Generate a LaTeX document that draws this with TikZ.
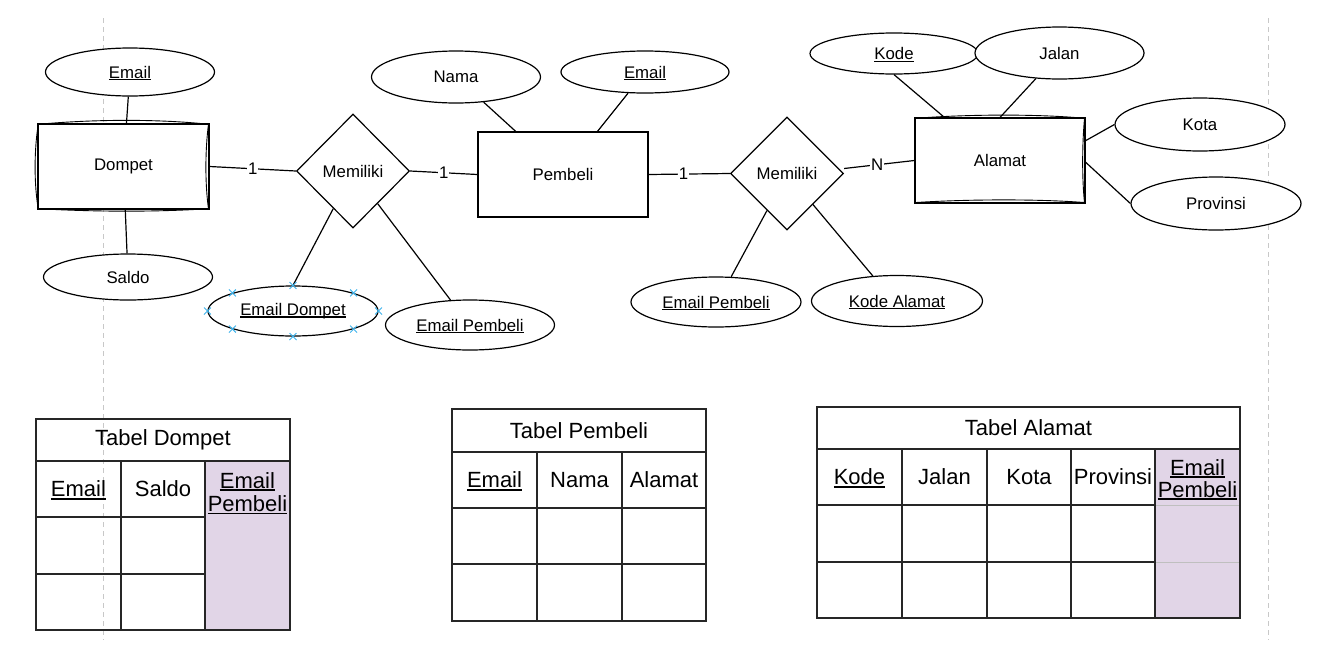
\documentclass[tikz,border=0pt]{standalone}
\usepackage{fontspec}
\setmainfont{Liberation Sans}
\usetikzlibrary{shapes.geometric,shapes.misc,calc}
\definecolor{fkpurple}{HTML}{E1D5E7}
\definecolor{selblue}{HTML}{3DB3EC}
\definecolor{guide}{HTML}{C8C8C8}
\newcommand\erfont{\fontsize{16.8}{20}\selectfont}
\newcommand\tbfont{\fontsize{22}{23}\selectfont}
\newcommand\ulx[1]{\setbox0\hbox{#1}\rlap{\smash{\rule[-0.13em]{\wd0}{0.065em}}}\box0}
\tikzset{
  x={(1pt,0)}, y={(0,-1pt)},
  erline/.style={line width=1.2pt, black},
  attr/.style={ellipse, draw, erline, inner sep=0pt, font=\erfont, fill=white},
  ent/.style={rectangle, draw, erline, inner sep=0pt, font=\erfont, fill=white},
  rel/.style={diamond, draw, erline, inner sep=0pt, font=\erfont, fill=white, minimum width=113pt, minimum height=114pt},
  card/.style={fill=white, inner sep=1pt, font=\erfont},
  sk/.style={line width=0.9pt, black},
  tbl/.style={line width=1.8pt, black!85},
  tbtext/.style={font=\tbfont, inner sep=0pt},
  selx/.style={cross out, draw=selblue, line width=0.9pt, minimum size=6pt, inner sep=0pt},
  guideline/.style={guide, line width=1pt, dash pattern=on 5pt off 4pt}
}
\begin{document}
\begin{tikzpicture}
\useasboundingbox (0,0) rectangle (1322,651);
% guide lines
\draw[guideline] (103,18) -- (103,640);
\draw[guideline] (1268,18) -- (1268,640);

% ---------- ER diagram ----------
\node[ent, minimum width=171pt, minimum height=85pt] (dompet) at (123.5,166.5) {Dompet};
\node[attr, minimum width=169pt, minimum height=48pt] (demail) at (130,72) {\ulx{Email}};
\node[attr, minimum width=169pt, minimum height=46pt] (saldo) at (128,277) {Saldo};

\node[rel] (rel1) at (353,171) {Memiliki};
\node[ent, minimum width=170pt, minimum height=85pt] (pembeli) at (563,174.5) {Pembeli};
\node[attr, minimum width=169pt, minimum height=52pt] (nama) at (456,77) {Nama};
\node[attr, minimum width=168pt, minimum height=42pt] (pemail) at (645,72) {\ulx{Email}};

\node[attr, minimum width=170pt, minimum height=50pt] (edompet) at (293,311) {\ulx{Email Dompet}};
\node[attr, minimum width=169pt, minimum height=50pt] (epl) at (470,325) {\ulx{Email Pembeli}};

\node[rel, minimum height=113pt] (rel2) at (787,173.5) {Memiliki};
\node[ent, minimum width=170pt, minimum height=85pt] (alamat) at (1000,160.5) {Alamat};
\node[attr, minimum width=168pt, minimum height=41pt] (kode) at (894,53.5) {\ulx{Kode}};
\node[attr, minimum width=169pt, minimum height=52pt] (jalan) at (1059.5,53) {Jalan};
\node[attr, minimum width=170pt, minimum height=53pt] (kota) at (1200,124.5) {Kota};
\node[attr, minimum width=170pt, minimum height=53pt] (provinsi) at (1216,203.5) {Provinsi};
\node[attr, minimum width=170pt, minimum height=50pt] (epr) at (716,302) {\ulx{Email Pembeli}};
\node[attr, minimum width=171pt, minimum height=51pt] (kalamat) at (897,301) {\ulx{Kode Alamat}};

% sketchy double strokes
\draw[sk] ($(dompet.north west)+(0,1)$) .. controls (95,119) and (160,119) .. ($(dompet.north east)+(0,1)$);
\draw[sk] ($(dompet.south west)+(0,-1)$) .. controls (95,212) and (160,212) .. ($(dompet.south east)+(0,-1)$);
\draw[sk] ($(dompet.north west)+(1,0)$) .. controls (34,150) and (34,185) .. ($(dompet.south west)+(1,0)$);
\draw[sk] ($(dompet.north east)+(-1,0)$) .. controls (205,150) and (205,185) .. ($(dompet.south east)+(-1,0)$);
\draw[sk] ($(alamat.north west)+(0,1)$) .. controls (970,114) and (1040,114) .. ($(alamat.north east)+(0,1)$);
\draw[sk] ($(alamat.south west)+(0,-1)$) .. controls (970,199) and (1040,199) .. ($(alamat.south east)+(0,-1)$);
\draw[sk] ($(alamat.north east)+(-1,0)$) .. controls (1082,145) and (1082,180) .. ($(alamat.south east)+(-1,0)$);

% attribute connectors
\draw[erline] (demail) -- (dompet);
\draw[erline] (dompet) -- (saldo);
\draw[erline] (nama) -- (pembeli);
\draw[erline] (pemail) -- (pembeli);
\draw[erline] (edompet.north) -- (rel1);
\draw[erline] (rel1) -- (epl.128);
\draw[erline] (kode.south) -- ($(alamat.north west)+(30,0)$);
\draw[erline] (alamat.north) -- (jalan);
\draw[erline] ($(alamat.north east)!0.27!(alamat.south east)$) -- (kota.west);
\draw[erline] ($(alamat.north east)!0.52!(alamat.south east)$) -- (provinsi.west);
\draw[erline] (rel2) -- (epr.59);
\draw[erline] (rel2) -- (kalamat.134);

% relationship connectors
\draw[erline] (dompet.east) -- node[card] (c1) {1} (rel1.west);
\draw[erline] (rel1.east) -- node[card] (c2) {1} (pembeli.west);
\draw[erline] (pembeli.east) -- node[card, pos=0.43] (c3) {1} (rel2.west);
\draw[erline] ($(rel2.east)+(0,-5)$) -- node[card, pos=0.47] (c4) {N} (alamat.west);

% selection marks
\foreach \a [count=\i] in {north,south,east,west,north east,north west,south east,south west}
  \node[selx] (sx\i) at (edompet.\a) {};

% ---------- Tabel Dompet ----------
\fill[fkpurple] (205,461) rectangle (290,630);
\draw[tbl] (36,419) rectangle (290,630);
\draw[tbl] (36,461) -- (290,461);
\draw[tbl] (36,517) -- (205,517);
\draw[tbl] (36,574) -- (205,574);
\draw[tbl] (121,461) -- (121,630);
\draw[tbl] (205,461) -- (205,630);
\node[tbtext] (td0) at (163,440) {Tabel Dompet};
\node[tbtext] (td1) at (78.5,489) {\ulx{Email}};
\node[tbtext] (td2) at (163,489) {Saldo};
\node[tbtext, anchor=base] (td3) at (247.5,488) {\ulx{Email}};
\node[tbtext, anchor=base] (td4) at (247.5,511.5) {\ulx{Pembeli}};

% ---------- Tabel Pembeli ----------
\draw[tbl] (452,409) rectangle (706,621);
\draw[tbl] (452,452) -- (706,452);
\draw[tbl] (452,508) -- (706,508);
\draw[tbl] (452,564) -- (706,564);
\draw[tbl] (537,452) -- (537,621);
\draw[tbl] (622,452) -- (622,621);
\node[tbtext] (tp0) at (579,430.5) {Tabel Pembeli};
\node[tbtext] (tp1) at (494.5,480) {\ulx{Email}};
\node[tbtext] (tp2) at (579.5,480) {Nama};
\node[tbtext] (tp3) at (664,480) {Alamat};

% ---------- Tabel Alamat ----------
\fill[fkpurple] (1155,449) rectangle (1240,618);
\draw[black!25, line width=1pt] (1155,505) -- (1240,505);
\draw[black!25, line width=1pt] (1155,562) -- (1240,562);
\draw[tbl] (817,407) rectangle (1240,618);
\draw[tbl] (817,449) -- (1240,449);
\draw[tbl] (817,505) -- (1155,505);
\draw[tbl] (817,562) -- (1155,562);
\foreach \xx in {902,987,1071,1155} \draw[tbl] (\xx,449) -- (\xx,618);
\node[tbtext] (ta0) at (1028.5,428) {Tabel Alamat};
\node[tbtext] (ta1) at (859.5,477) {\ulx{Kode}};
\node[tbtext] (ta2) at (944.5,477) {Jalan};
\node[tbtext] (ta3) at (1029,477) {Kota};
\node[tbtext] (ta4) at (1113,477) {Provinsi};
\node[tbtext, anchor=base] (ta5) at (1197.5,475) {\ulx{Email}};
\node[tbtext, anchor=base] (ta6) at (1197.5,497) {\ulx{Pembeli}};
\end{tikzpicture}
\end{document}
